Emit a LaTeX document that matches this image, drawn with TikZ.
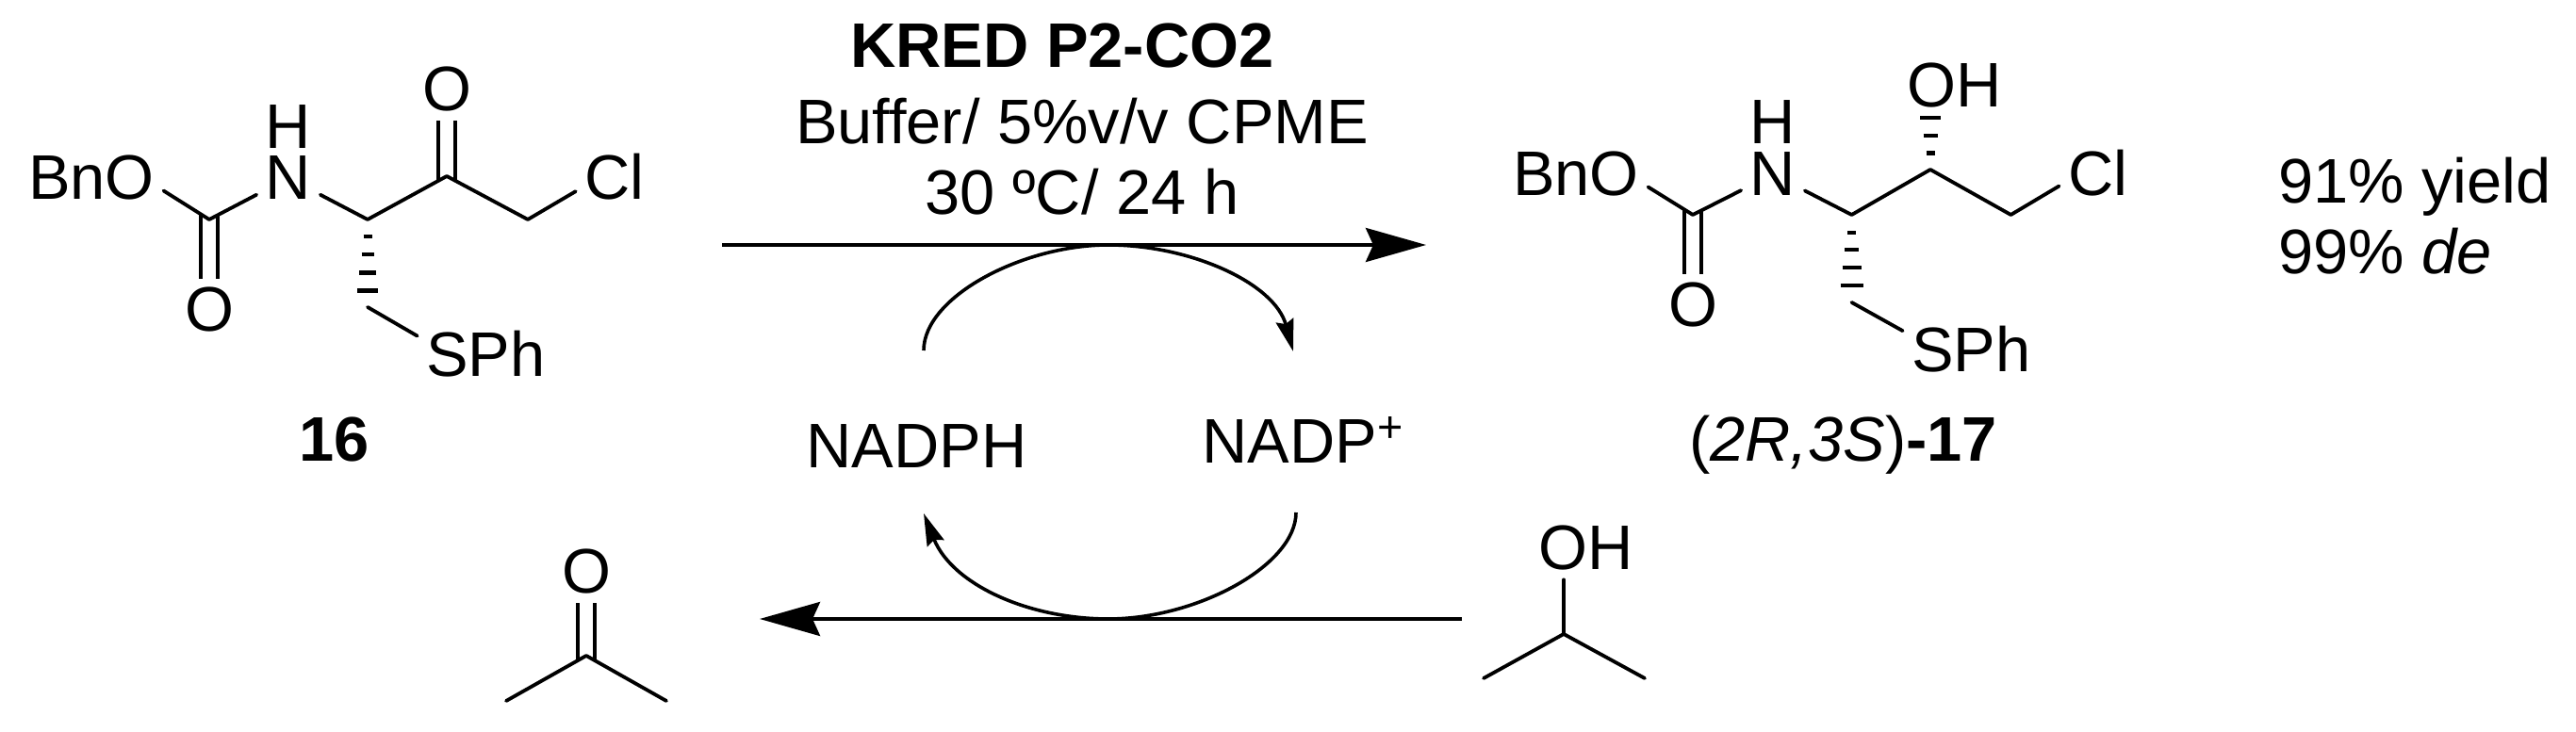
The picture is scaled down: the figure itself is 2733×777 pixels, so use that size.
\documentclass[tikz,border=0pt]{standalone}
\usepackage{fontspec}
\setmainfont{Liberation Sans}
\usetikzlibrary{arrows.meta, calc}
\tikzset{
  atom/.style={inner sep=0.09cm, font=\fontsize{19}{23}\selectfont, anchor=base},
  nitro/.style={atom, inner ysep=0.04cm},
  lab/.style={inner sep=0pt, font=\fontsize{19}{23}\selectfont, anchor=base},
  bond/.style={line width=0.038cm, line cap=round, line join=round},
  dbond/.style={line width=0.038cm, double, double distance=0.14cm, shorten <=-0.05cm},
  hashbar/.style={line width=0.042cm},
  rxn/.style={line width=0.036cm, -{Stealth[length=0.64cm, width=0.36cm, inset=0.08cm]}},
  cyc/.style={line width=0.036cm, -{Stealth[length=0.34cm, width=0.19cm, inset=0.04cm]}}
}

\begin{document}
\begin{tikzpicture}[x=0.01cm, y=-0.01cm]
\useasboundingbox (0,0) rectangle (2733,777);

% substrate
\node[atom] (bno) at (97,212) {BnO};
\node[nitro] (na) at (306,212) {N};
\node[lab] (ha) at (306,157.5) {H};
\node[atom] (oa) at (474,118) {O};
\node[atom] (ob) at (222,352) {O};
\node[atom] (cla) at (652,212) {Cl};
\node[atom] (spha) at (515.5,400) {SPh};
\coordinate (ca) at (222,233);
\coordinate (cb) at (390,233);
\coordinate (cc) at (474,187);
\coordinate (cd) at (560,233);
\draw[dbond] (ca) -- (ob);
\draw[dbond] (cc) -- (oa);
\draw[bond] (bno.-10) -- (ca) -- (na);
\draw[bond] (na) -- (cb) -- (cc) -- (cd) -- (cla.-160);
\foreach \d/\w in {18/4.5, 37/6.5, 56.5/9, 75.5/11}
  \draw[hashbar, shift={(cb)}] (-\w,\d) -- (\w,\d);
\draw[bond] ($(cb)+(0,93)$) -- (spha.165);
\node[lab] (sma) at (355,490) {\textbf{16}};

% conditions
\node[lab] (kred) at (1127,72) {\textbf{KRED P2-CO2}};
\node[lab] (buffer) at (1148,153) {Buffer/ 5\%v/v CPME};
\node[lab] (temp) at (1148,228) {30 ºC/ 24 h};
\coordinate (ra) at (766,260);
\coordinate (rb) at (1513,260);
\draw[rxn] (ra) -- (rb);

% cofactor
\node[lab] (nadph) at (972.5,496.5) {NADPH};
\node[lab] (nadp) at (1383,492) {NADP\textsuperscript{+}};
\draw[cyc] ($(nadph.base)+(7.5,-124.5)$) .. controls (980,315) and (1085,260) .. (1176,260)
  .. controls (1262,260) and (1352,300) .. ($(nadp.base)+(-11,-119)$);
\draw[cyc] ($(nadp.base)+(-8,52)$) .. controls (1375,600) and (1270,657) .. (1176,657)
  .. controls (1090,657) and (1010,620) .. ($(nadph.base)+(7.5,48.5)$);

% product
\node[atom] (bnp) at (1672,208) {BnO};
\node[nitro] (np) at (1881,208) {N};
\node[lab] (hp) at (1881,152.5) {H};
\node[atom] (ohp) at (2073.5,114) {OH};
\node[atom] (op) at (1796,347) {O};
\node[atom] (clp) at (2225.8,208) {Cl};
\node[atom] (sphp) at (2091.5,394.6) {SPh};
\coordinate (pa) at (1796,228);
\coordinate (pb) at (1964.5,228);
\coordinate (pc) at (2048,180);
\coordinate (pd) at (2133.4,228);
\draw[dbond] (pa) -- (op);
\draw[bond] (bnp.-10) -- (pa) -- (np);
\draw[bond] (np) -- (pb) -- (pc) -- (pd) -- (clp.-162);
\foreach \d/\w in {19/4.5, 37/7.5, 56/10, 75/12}
  \draw[hashbar, shift={(pb)}] (-\w,\d) -- (\w,\d);
\foreach \d/\w in {-17.5/4.5, -36/7.5, -55/11}
  \draw[hashbar, shift={(pc)}] (-\w,\d) -- (\w,\d);
\draw[bond] ($(pb)+(0,93)$) -- (sphp.165);
\node[lab] (pdt) at (1955.5,490) {(\textit{2R,3S})\textbf{-17}};
\node[lab, anchor=base west] (yld) at (2416.5,215.5) {91\% yield};
\node[lab, anchor=base west] (dex) at (2416.5,291) {99\% \textit{de}};

% isopropanol to acetone
\node[atom] (ace) at (622,630) {O};
\coordinate (acc) at (622,696);
\coordinate (acl) at (537,744);
\coordinate (acr) at (707,744);
\draw[dbond] (acc) -- (ace);
\draw[bond] (acl) -- (acc) -- (acr);
\node[atom] (ioh) at (1683,605) {OH};
\coordinate (ipc) at (1659,673);
\coordinate (ipl) at (1574,720);
\coordinate (ipr) at (1745,720);
\draw[bond] (ipc) -- (ipc |- ioh.south);
\draw[bond] (ipl) -- (ipc) -- (ipr);
\coordinate (rc) at (1551,657);
\coordinate (rd) at (806,657);
\draw[rxn] (rc) -- (rd);
\end{tikzpicture}
\end{document}
